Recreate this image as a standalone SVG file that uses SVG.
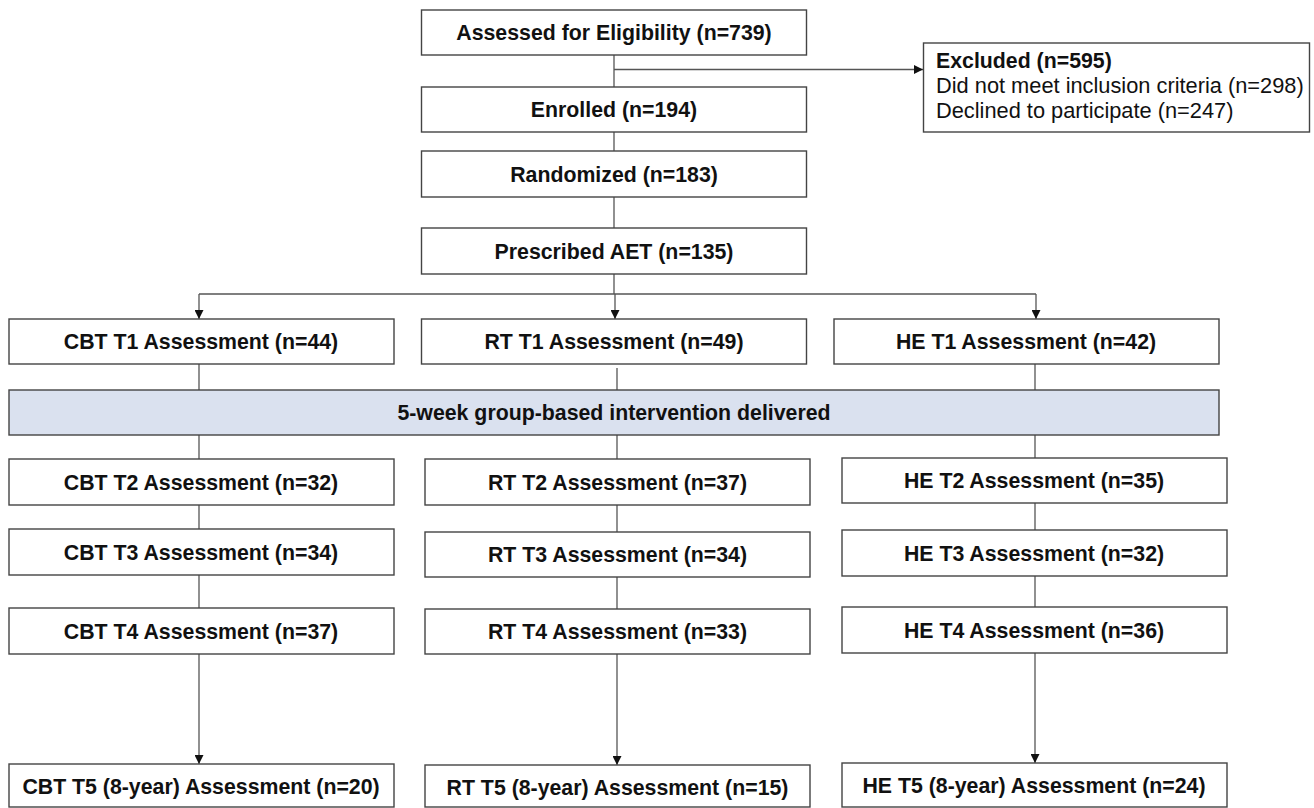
<svg xmlns="http://www.w3.org/2000/svg" width="1314" height="808" viewBox="0 0 1314 808">
<defs>
<marker id="arr" viewBox="0 0 10 10" refX="10" refY="5" markerWidth="9" markerHeight="9" markerUnits="userSpaceOnUse" orient="auto">
<path d="M0,0 L10,5 L0,10 z" fill="#111"/>
</marker>
<style>
.box{fill:#fff;stroke:#444;stroke-width:1.4}
.band{fill:#dae1ef;stroke:#444;stroke-width:1.4}
.t{font-family:"Liberation Sans",Arial,sans-serif;font-size:21.3px;font-weight:bold;fill:#111;text-anchor:middle}
.r{font-family:"Liberation Sans",Arial,sans-serif;font-size:21.8px;fill:#111}
.rb{font-family:"Liberation Sans",Arial,sans-serif;font-size:21.3px;font-weight:bold;fill:#111}
.c{stroke:#555;stroke-width:1.3;fill:none}
.a{stroke:#555;stroke-width:1.3;fill:none;marker-end:url(#arr)}
</style>
</defs>
<rect width="1314" height="808" fill="#fff"/>
<g id="connectors">
<line class="c" x1="614" y1="55" x2="614" y2="87"/>
<line class="a" x1="614" y1="69.5" x2="923" y2="69.5"/>
<line class="c" x1="614" y1="132" x2="614" y2="151"/>
<line class="c" x1="614" y1="197" x2="614" y2="228"/>
<line class="c" x1="614" y1="274" x2="614" y2="294"/>
<line class="c" x1="199" y1="294" x2="1036" y2="294"/>
<line class="a" x1="199" y1="294" x2="199" y2="319"/>
<line class="a" x1="615" y1="294" x2="615" y2="319"/>
<line class="a" x1="1036" y1="294" x2="1036" y2="319"/>
<line class="c" x1="199" y1="364" x2="199" y2="390"/>
<line class="c" x1="617" y1="368" x2="617" y2="390"/>
<line class="c" x1="1035" y1="364" x2="1035" y2="390"/>
<line class="c" x1="199" y1="435" x2="199" y2="459"/>
<line class="c" x1="617" y1="435" x2="617" y2="459"/>
<line class="c" x1="1035" y1="435" x2="1035" y2="458"/>
<line class="c" x1="199" y1="505" x2="199" y2="529"/>
<line class="c" x1="617" y1="505" x2="617" y2="532"/>
<line class="c" x1="1035" y1="503" x2="1035" y2="530"/>
<line class="c" x1="199" y1="575" x2="199" y2="608"/>
<line class="c" x1="617" y1="577" x2="617" y2="609"/>
<line class="c" x1="1035" y1="576" x2="1035" y2="607"/>
<line class="a" x1="199" y1="654" x2="199" y2="764"/>
<line class="a" x1="617" y1="654" x2="617" y2="765"/>
<line class="a" x1="1035" y1="653" x2="1035" y2="763"/>
</g>
<g id="assessed"><rect class="box" x="421.5" y="10" width="385" height="45"/><text class="t" x="614" y="40">Assessed for Eligibility (n=739)</text></g>
<g id="excluded"><rect class="box" x="923.5" y="43" width="386" height="89"/>
<text class="rb" x="936" y="68">Excluded (n=595)</text>
<text class="r" x="936" y="93">Did not meet inclusion criteria (n=298)</text>
<text class="r" x="936" y="118">Declined to participate (n=247)</text></g>
<g id="enrolled"><rect class="box" x="421.5" y="87" width="385" height="45"/><text class="t" x="614" y="117">Enrolled (n=194)</text></g>
<g id="randomized"><rect class="box" x="421.5" y="151" width="385" height="46"/><text class="t" x="614" y="181.5">Randomized (n=183)</text></g>
<g id="prescribed"><rect class="box" x="421.5" y="228" width="385" height="46"/><text class="t" x="614" y="258.5">Prescribed AET (n=135)</text></g>
<g id="cbt1"><rect class="box" x="9" y="319" width="385" height="45"/><text class="t" x="201" y="349">CBT T1 Assessment (n=44)</text></g>
<g id="rt1"><rect class="box" x="421.5" y="319" width="385" height="45"/><text class="t" x="614" y="349">RT T1 Assessment (n=49)</text></g>
<g id="he1"><rect class="box" x="834" y="319" width="385" height="45"/><text class="t" x="1026" y="349">HE T1 Assessment (n=42)</text></g>
<g id="intervention"><rect class="band" x="9" y="390" width="1210" height="45"/><text class="t" x="614" y="420">5-week group-based intervention delivered</text></g>
<g id="cbt2"><rect class="box" x="9" y="459" width="385" height="46"/><text class="t" x="201" y="489.5">CBT T2 Assessment (n=32)</text></g>
<g id="rt2"><rect class="box" x="425" y="459" width="385" height="46"/><text class="t" x="617.5" y="489.5">RT T2 Assessment (n=37)</text></g>
<g id="he2"><rect class="box" x="842" y="458" width="385" height="45"/><text class="t" x="1034" y="488">HE T2 Assessment (n=35)</text></g>
<g id="cbt3"><rect class="box" x="9" y="529" width="385" height="46"/><text class="t" x="201" y="559.5">CBT T3 Assessment (n=34)</text></g>
<g id="rt3"><rect class="box" x="425" y="532" width="385" height="45"/><text class="t" x="617.5" y="562">RT T3 Assessment (n=34)</text></g>
<g id="he3"><rect class="box" x="842" y="530" width="385" height="46"/><text class="t" x="1034" y="560.5">HE T3 Assessment (n=32)</text></g>
<g id="cbt4"><rect class="box" x="9" y="608" width="385" height="46"/><text class="t" x="201" y="638.5">CBT T4 Assessment (n=37)</text></g>
<g id="rt4"><rect class="box" x="425" y="609" width="385" height="45"/><text class="t" x="617.5" y="639">RT T4 Assessment (n=33)</text></g>
<g id="he4"><rect class="box" x="842" y="607" width="385" height="46"/><text class="t" x="1034" y="637.5">HE T4 Assessment (n=36)</text></g>
<g id="cbt5"><rect class="box" x="9" y="764" width="385" height="43"/><text class="t" x="201" y="794">CBT T5 (8-year) Assessment (n=20)</text></g>
<g id="rt5"><rect class="box" x="425" y="765" width="385" height="42"/><text class="t" x="617.5" y="795">RT T5 (8-year) Assessment (n=15)</text></g>
<g id="he5"><rect class="box" x="842" y="763" width="385" height="44"/><text class="t" x="1034" y="793">HE T5 (8-year) Assessment (n=24)</text></g>
</svg>
